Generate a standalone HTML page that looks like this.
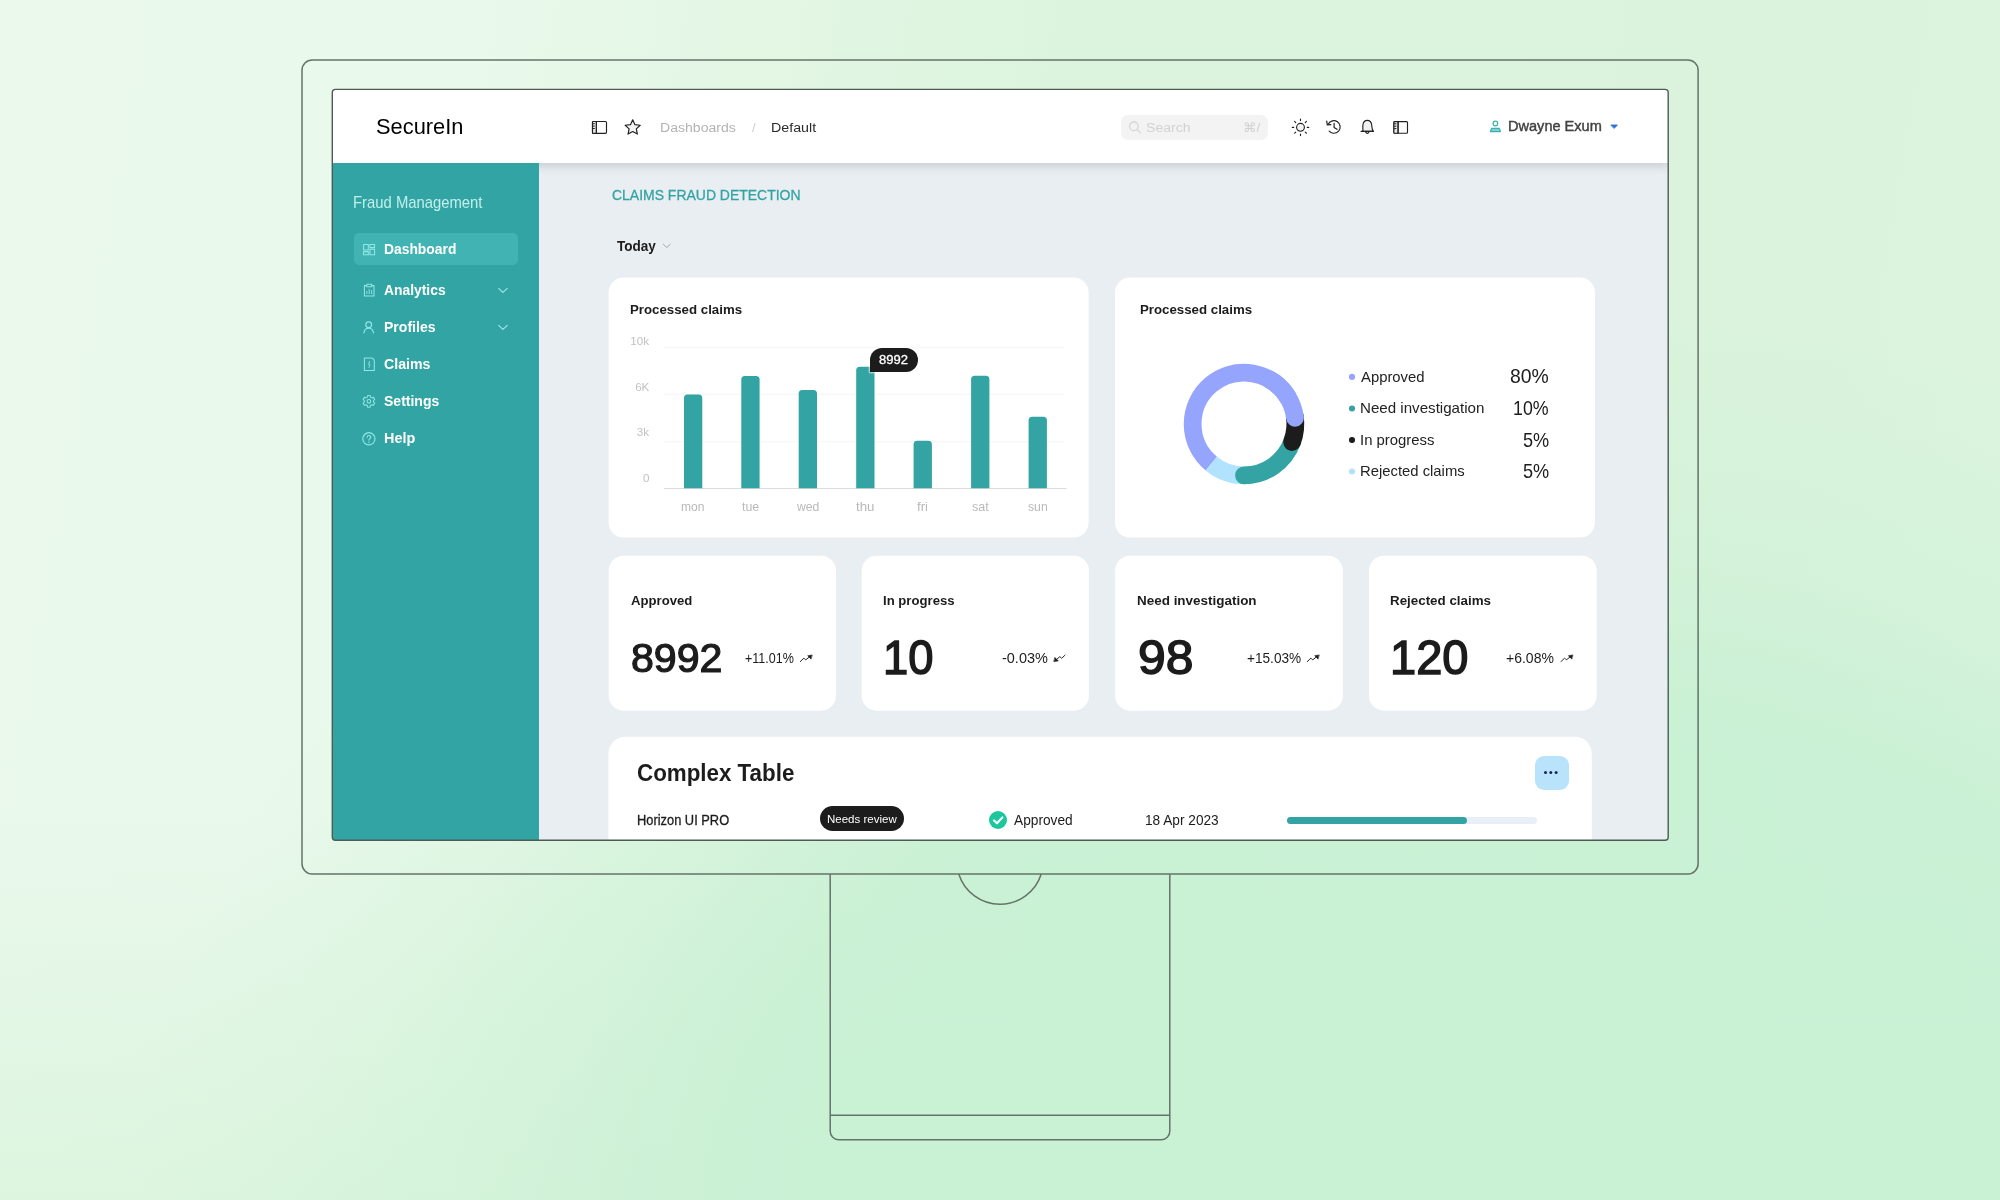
<!DOCTYPE html>
<html lang="en">
<head>
<meta charset="utf-8">
<title>SecureIn – Claims Fraud Detection</title>
<style>
*{box-sizing:border-box;margin:0;padding:0}
html,body{width:2000px;height:1200px;overflow:hidden}
body{position:relative;font-family:"Liberation Sans",sans-serif;
  background:
    radial-gradient(ellipse 1500px 1000px at 1500px 1200px, rgba(201,241,212,1) 0, rgba(201,241,212,.97) 47%, rgba(201,241,212,.88) 52%, rgba(201,241,212,.5) 63%, rgba(201,241,212,.22) 76%, rgba(201,241,212,0) 92%),
    linear-gradient(180deg, rgba(205,240,208,0) 68%, rgba(205,240,208,.45) 100%),
    linear-gradient(100deg,#eaf9ec 0%,#e9f9eb 22%,#dcf4dd 49%,#dbf3dc 85%,#ddf5e0 100%);
}
.abs{position:absolute}
.t{position:absolute;white-space:nowrap;line-height:1;font-family:"Liberation Sans",sans-serif}
svg{position:absolute;overflow:visible}
#stage{will-change:transform;position:absolute;left:0;top:0;width:2000px;height:1200px}
/* monitor */
#screen{left:332px;top:89px;width:1336px;height:751.4px;border-radius:3.5px;overflow:hidden;background:#e9eef2}
#screen > .in{position:absolute;left:-332px;top:-89px;width:2000px;height:1200px}
#hdr{left:332px;top:89px;width:1337px;height:74.2px;background:#fff;box-shadow:0 3px 9px rgba(50,70,80,.2)}
#side{left:332px;top:163.2px;width:207.2px;height:680px;background:#33a4a4}
.card{position:absolute;background:#fff;border-radius:15px}
.bar{position:absolute;background:#33a3a3;border-radius:3.5px 3.5px 0 0;width:18.2px}
.grid{position:absolute;height:1px;background:#f6f6f6;left:664px;width:400px}
.dot{position:absolute;width:6.8px;height:6.8px;border-radius:50%}
</style>
</head>
<body>
<div id="stage">
<!-- monitor outline + stand -->
<svg width="2000" height="1200" viewBox="0 0 2000 1200" style="left:0;top:0">
  <g fill="none" stroke="#64746a" stroke-width="1.5">
    <rect x="302" y="60" width="1396.1" height="813.9" rx="10.2"/>
    <path d="M830.2 874 V1131.2 a8.5 8.5 0 0 0 8.5 8.5 H1161.3 a8.5 8.5 0 0 0 8.5 -8.5 V874"/>
    <path d="M830.2 1115.3 H1169.8"/>
    <path d="M958.75 874.1 A43.27 43.27 0 0 0 1041.25 874.1"/>
  </g>
</svg>
<div id="screen" class="abs"><div class="in">


<!-- cards, gridlines, bars -->
<svg width="2000" height="1200" viewBox="0 0 2000 1200" style="left:0;top:0">
  <rect x="608.6" y="277.6" width="480" height="260" rx="15" fill="#fff"/>
  <rect x="1115" y="277.6" width="480" height="260" rx="15" fill="#fff"/>
  <rect x="608.7" y="555.7" width="227.2" height="155" rx="15" fill="#fff"/>
  <rect x="861.7" y="555.7" width="227.2" height="155" rx="15" fill="#fff"/>
  <rect x="1115.2" y="555.7" width="227.6" height="155" rx="15" fill="#fff"/>
  <rect x="1369" y="555.7" width="227.6" height="155" rx="15" fill="#fff"/>
  <rect x="608.4" y="736.8" width="983.4" height="160" rx="17" fill="#fff"/>
  <rect x="664" y="347.3" width="400" height="1" fill="#f6f6f6"/>
  <rect x="664" y="393.8" width="400" height="1" fill="#f6f6f6"/>
  <rect x="664" y="441.2" width="400" height="1" fill="#f6f6f6"/>
  <rect x="664" y="488" width="402.6" height="1" fill="#dcdcdc"/>
  <path fill="#33a3a3" d="M684.0 488.3 V398.0 a3.6 3.6 0 0 1 3.6 -3.6 h11.1 a3.6 3.6 0 0 1 3.6 3.6 V488.3 Z"/>
  <path fill="#33a3a3" d="M741.3 488.3 V379.6 a3.6 3.6 0 0 1 3.6 -3.6 h11.1 a3.6 3.6 0 0 1 3.6 3.6 V488.3 Z"/>
  <path fill="#33a3a3" d="M798.7 488.3 V393.6 a3.6 3.6 0 0 1 3.6 -3.6 h11.1 a3.6 3.6 0 0 1 3.6 3.6 V488.3 Z"/>
  <path fill="#33a3a3" d="M856.2 488.3 V370.3 a3.6 3.6 0 0 1 3.6 -3.6 h11.1 a3.6 3.6 0 0 1 3.6 3.6 V488.3 Z"/>
  <path fill="#33a3a3" d="M913.6 488.3 V444.4 a3.6 3.6 0 0 1 3.6 -3.6 h11.1 a3.6 3.6 0 0 1 3.6 3.6 V488.3 Z"/>
  <path fill="#33a3a3" d="M971.1 488.3 V379.4 a3.6 3.6 0 0 1 3.6 -3.6 h11.1 a3.6 3.6 0 0 1 3.6 3.6 V488.3 Z"/>
  <path fill="#33a3a3" d="M1028.6 488.3 V420.3 a3.6 3.6 0 0 1 3.6 -3.6 h11.1 a3.6 3.6 0 0 1 3.6 3.6 V488.3 Z"/>
</svg>
<div class="abs" style="left:870px;top:348px;width:47.5px;height:23.8px;background:#1c1c1c;border-radius:12px 12px 12px 0;box-shadow:0 0 2px 1px rgba(255,255,255,.75)"></div>

<!-- chart card 2 -->
<svg width="140" height="140" viewBox="-70 -70 140 140" style="left:1174px;top:354.3px">
  <g fill="none" stroke-width="17.8">
    <path stroke="#95a4fc" d="M-32.66 39.62 A51.35 51.35 0 1 1 44.47 -25.68"/>
    <path stroke="#b1e3ff" d="M1.79 51.32 A51.35 51.35 0 0 1 -32.66 39.62"/>
    <path stroke="#33a3a3" stroke-linecap="round" d="M48.10 17.98 A51.35 51.35 0 0 1 0.00 51.35"/>
    <path stroke="#1c1c1c" stroke-linecap="round" d="M50.72 -8.03 A51.35 51.35 0 0 1 48.10 17.98"/>
    <path stroke="#95a4fc" stroke-linecap="round" d="M25.68 -44.47 A51.35 51.35 0 0 1 50.97 -6.26"/>
  </g>
</svg>
<svg width="10" height="110" viewBox="0 0 10 110" style="left:1347.25px;top:370px">
  <circle cx="5" cy="6.9" r="3.05" fill="#95a4fc"/><circle cx="5" cy="38.5" r="3.05" fill="#33a3a3"/><circle cx="5" cy="70" r="3.05" fill="#1c1c1c"/><circle cx="5" cy="101.5" r="3.05" fill="#b1e3ff"/>
</svg>

<!-- stat cards -->

<!-- table card -->
<div class="abs" style="left:1534.6px;top:755.6px;width:34px;height:34px;border-radius:9px;background:#b9e3fb"></div>
<div class="abs" style="left:1544.3px;top:771.2px;width:3.2px;height:3.2px;border-radius:50%;background:#1b2559;box-shadow:5.3px 0 0 #1b2559,10.6px 0 0 #1b2559"></div>
<div class="abs" style="left:820px;top:805.6px;width:84.2px;height:25.8px;border-radius:13px;background:#1c1c1c"></div>
<div class="abs" style="left:988.8px;top:811.2px;width:18.2px;height:18.2px;border-radius:50%;background:#1dc79e"></div>
<svg width="18.2" height="18.2" viewBox="0 0 18.2 18.2" style="left:988.8px;top:811.2px"><path d="M5 9.4 L8 12.3 L13.4 6.4" fill="none" stroke="#fff" stroke-width="2.1" stroke-linecap="round" stroke-linejoin="round"/></svg>
<div class="abs" style="left:1286.6px;top:816.8px;width:250.4px;height:7.2px;border-radius:4px;background:#e9eff7"></div>
<div class="abs" style="left:1286.6px;top:816.8px;width:180.8px;height:7.2px;border-radius:4px;background:#33a3a3"></div>

<div id="hdr" class="abs"></div>
<div id="side" class="abs"></div>
<div class="abs" style="left:354px;top:233px;width:163.6px;height:32.4px;border-radius:5px;background:#41b3b2"></div>
<div class="abs" style="left:1121px;top:114.5px;width:147.4px;height:25px;border-radius:7px;background:#f3f3f3"></div>

<!-- ===== all small icons: one full-stage SVG in page coordinates ===== -->
<svg width="2000" height="1200" viewBox="0 0 2000 1200" style="left:0;top:0" fill="none" stroke-linecap="round" stroke-linejoin="round">
  <!-- header: sidebar toggle (left) -->
  <g stroke="#222" stroke-width="1.15">
    <rect x="592.5" y="121.5" width="14" height="11.8" rx="1" fill="#fff"/>
    <rect x="592.5" y="121.5" width="3.9" height="11.8" rx="0.6" fill="#e8e8e8"/>
    <path d="M596.4 121.5V133.3" />
    <path d="M593 123.7h1.4M593 126.1h1.4M593 128.5h1.4" stroke-width="1"/>
  </g>
  <!-- header: star -->
  <path d="M632.70 119.80 L634.93 124.63 L640.21 125.26 L636.31 128.87 L637.34 134.09 L632.70 131.50 L628.06 134.09 L629.09 128.87 L625.19 125.26 L630.47 124.63 Z" fill="#f4f4f4" stroke="#222" stroke-width="1.2"/>
  <!-- search magnifier -->
  <g stroke="#d6d6d6" stroke-width="1.3">
    <circle cx="1133.9" cy="126.3" r="4.3"/>
    <path d="M1137.1 129.6 L1140.4 132.9"/>
  </g>
  <!-- sun -->
  <g stroke="#222" stroke-width="1.15">
    <circle cx="1300.5" cy="127.3" r="3.9" fill="#f4f4f4"/>
    <path d="M1300.5 119v1.6M1300.5 134v1.6M1292.2 127.3h1.6M1307.2 127.3h1.6M1294.6 121.4l1.15 1.15M1305.25 132.05l1.15 1.15M1294.6 133.2l1.15 -1.15M1305.25 122.55l1.15 -1.15"/>
  </g>
  <!-- history -->
  <g stroke="#222" stroke-width="1.2">
    <path d="M1328.3 124.0 A6.3 6.3 0 1 1 1329.2 131.2" />
    <path d="M1326.7 121.2 L1327.3 124.9 L1330.9 124.6" />
    <path d="M1334.1 123.4 V127.4 L1337.0 129.3" />
  </g>
  <!-- bell -->
  <g stroke="#222" stroke-width="1.15">
    <path d="M1362.9 131.3 C1363.0 129.5 1362.6 127.0 1362.9 125.0 C1363.3 122.3 1365.0 120.4 1367.3 120.4 C1369.6 120.4 1371.3 122.3 1371.7 125.0 C1372.0 127.0 1371.6 129.5 1373.5 131.3 Z M1361.1 131.3 H1373.5" fill="#f1f1f1"/>
    <path d="M1361.3 131.3 H1373.3"/>
    <path d="M1365.8 132.3 a1.6 1.6 0 0 0 3 0" />
  </g>
  <!-- header: sidebar toggle (right) -->
  <g stroke="#222" stroke-width="1.15">
    <rect x="1393.9" y="121.6" width="13.6" height="11.6" rx="1" fill="#fff"/>
    <rect x="1393.9" y="121.6" width="4.2" height="11.6" rx="0.6" fill="#e8e8e8"/>
    <path d="M1398.1 121.6V133.2"/>
    <path d="M1394.5 123.8h1.5M1394.5 126.2h1.5M1394.5 128.6h1.5" stroke-width="1"/>
  </g>
  <!-- user glyph -->
  <g stroke="#3fb1b0" stroke-width="1.25">
    <circle cx="1495.4" cy="123.5" r="2.3"/>
    <path d="M1490.4 131.5 L1491.6 128.3 H1499.2 L1500.4 131.5 Z" fill="#7fd0ce"/>
  </g>
  <!-- caret -->
  <path d="M1611.2 125.0 H1617.4 L1614.3 128.2 Z" fill="#2a6fd3" stroke="#2a6fd3" stroke-width="0.9"/>

  <!-- sidebar: dashboard -->
  <g stroke="#8fe8e6" stroke-width="1.05">
    <rect x="363.6" y="244.4" width="4.7" height="5.6"/>
    <rect x="369.9" y="244.4" width="4.7" height="3.1"/>
    <rect x="363.6" y="251.6" width="4.7" height="3.1"/>
    <rect x="369.9" y="249.1" width="4.7" height="5.6"/>
  </g>
  <!-- sidebar: analytics (clipboard) -->
  <g stroke="#8fe8e6" stroke-width="1.05">
    <path d="M366.6 285.6 H364.4 V296 H374 V285.6 H371.8"/>
    <rect x="366.6" y="284.3" width="5.2" height="2.5" rx="0.6"/>
    <path d="M366.8 293.6V291.4M369.2 293.6V289.6M371.6 293.6V290.6" stroke-width="0.95"/>
  </g>
  <!-- sidebar: profiles -->
  <g stroke="#8fe8e6" stroke-width="1.15">
    <circle cx="368.7" cy="324.7" r="2.9"/>
    <path d="M363.9 333 C364.3 329.8 366.2 328.2 368.7 328.2 C371.2 328.2 373.1 329.8 373.5 333"/>
  </g>
  <!-- sidebar: claims -->
  <g stroke="#8fe8e6" stroke-width="1.05">
    <path d="M364.4 358 H370.8 C372.8 358 374.3 359.6 374.3 361.6 V370.4 H364.4 Z"/>
    <path d="M369.6 361.4 L368.6 364.4 L369.9 364.6 L369.0 367.4" stroke-width="0.9"/>
  </g>
  <!-- sidebar: settings gear -->
  <g stroke="#8fe8e6" stroke-width="1.05">
    <path d="M367.7 395.4 H370.1 L370.5 397.1 L371.9 397.9 L373.5 397.3 L374.7 399.4 L373.5 400.6 V402.0 L374.7 403.2 L373.5 405.3 L371.9 404.7 L370.5 405.5 L370.1 407.2 H367.7 L367.3 405.5 L365.9 404.7 L364.3 405.3 L363.1 403.2 L364.3 402.0 V400.6 L363.1 399.4 L364.3 397.3 L365.9 397.9 L367.3 397.1 Z"/>
    <circle cx="368.9" cy="401.3" r="1.8"/>
  </g>
  <!-- sidebar: help -->
  <g stroke="#8fe8e6" stroke-width="1.15">
    <circle cx="368.9" cy="438.8" r="6.1"/>
    <path d="M367.1 437.3 C367.1 435.0 370.8 435.0 370.8 437.2 C370.8 438.6 368.9 438.7 368.9 440.3" stroke-width="1.05"/>
    <path d="M368.9 442.2v0.2" stroke-width="1.25"/>
  </g>
  <!-- sidebar chevrons -->
  <g stroke="#9be9e7" stroke-width="1.1">
    <path d="M498.6 288.3 L502.9 292.3 L507.2 288.3"/>
    <path d="M498.6 325.3 L502.9 329.3 L507.2 325.3"/>
  </g>
  <!-- today chevron -->
  <path d="M663.4 244.3 L666.8 247.6 L670.2 244.3" stroke="#a6a6a6" stroke-width="1.0"/>

  <!-- trend arrows -->
  <g stroke="#1c1c1c" stroke-width="0.95" fill="#1c1c1c">
    <g id="up1"><path d="M800.3 661.6 L803.9 658.1 L805.7 659.9 L809.6 656.8" fill="none"/><path d="M811.9 655.0 L807.7 655.7 L810.9 658.9 Z" stroke-width="0.6"/></g>
    <g transform="translate(507,0)"><path d="M800.3 661.6 L803.9 658.1 L805.7 659.9 L809.6 656.8" fill="none"/><path d="M811.9 655.0 L807.7 655.7 L810.9 658.9 Z" stroke-width="0.6"/></g>
    <g transform="translate(760.7,0)"><path d="M800.3 661.6 L803.9 658.1 L805.7 659.9 L809.6 656.8" fill="none"/><path d="M811.9 655.0 L807.7 655.7 L810.9 658.9 Z" stroke-width="0.6"/></g>
    <!-- down-left -->
    <g><path d="M1065.0 655.2 L1061.6 658.3 L1059.8 656.6 L1056.6 659.5" fill="none"/><path d="M1054.1 661.5 L1058.3 660.9 L1055.0 657.6 Z" stroke-width="0.6"/></g>
  </g>
</svg>

<span class="t" style="left:375.93px;transform-origin:0 50%;transform:scaleX(0.9641);top:114.93px;font-size:22.67px;font-weight:400;color:#000;">SecureIn</span>
<span class="t" style="left:660.37px;transform-origin:0 50%;transform:scaleX(1.0638);top:120.65px;font-size:13.23px;font-weight:400;color:#b3b3b3;">Dashboards</span>
<span class="t" style="left:751.90px;transform-origin:0 50%;top:120.65px;font-size:13.23px;font-weight:400;color:#cfcfcf;">/</span>
<span class="t" style="left:770.69px;transform-origin:0 50%;transform:scaleX(1.0781);top:120.65px;font-size:13.23px;font-weight:400;color:#2b2b2b;">Default</span>
<span class="t" style="left:1145.84px;transform-origin:0 50%;transform:scaleX(1.0438);top:120.51px;font-size:13.52px;font-weight:400;color:#d2d2d2;">Search</span>
<span class="t" style="left:1243.11px;transform-origin:0 50%;transform:scaleX(1.0453);top:120.88px;font-size:13.08px;font-weight:400;color:#d2d2d2;font-family:"DejaVu Sans","Liberation Sans",sans-serif;">⌘/</span>
<span class="t" style="left:1507.62px;transform-origin:0 50%;transform:scaleX(0.9540);top:118.03px;font-size:15.26px;font-weight:400;color:#424242;-webkit-text-stroke:0.45px #424242;">Dwayne Exum</span>
<span class="t" style="left:353.28px;transform-origin:0 50%;transform:scaleX(0.9281);top:194.81px;font-size:15.99px;font-weight:400;color:#bff0eb;">Fraud Management</span>
<span class="t" style="left:383.57px;transform-origin:0 50%;transform:scaleX(0.9541);top:241.75px;font-size:14.53px;font-weight:700;color:#fff;">Dashboard</span>
<span class="t" style="left:383.94px;transform-origin:0 50%;transform:scaleX(0.9551);top:282.55px;font-size:14.53px;font-weight:700;color:#fff;">Analytics</span>
<span class="t" style="left:383.55px;transform-origin:0 50%;transform:scaleX(0.9671);top:319.65px;font-size:14.53px;font-weight:700;color:#fff;">Profiles</span>
<span class="t" style="left:383.83px;transform-origin:0 50%;transform:scaleX(0.9732);top:356.65px;font-size:14.53px;font-weight:700;color:#fff;">Claims</span>
<span class="t" style="left:383.78px;transform-origin:0 50%;transform:scaleX(0.9654);top:393.65px;font-size:14.53px;font-weight:700;color:#fff;">Settings</span>
<span class="t" style="left:383.53px;transform-origin:0 50%;transform:scaleX(0.9922);top:430.65px;font-size:14.53px;font-weight:700;color:#fff;">Help</span>
<span class="t" style="left:612.47px;transform-origin:0 50%;transform:scaleX(0.9417);top:187.69px;font-size:14.83px;font-weight:400;color:#33a3a3;-webkit-text-stroke:0.3px #33a3a3;">CLAIMS FRAUD DETECTION</span>
<span class="t" style="left:616.54px;transform-origin:0 50%;transform:scaleX(0.9813);top:240.06px;font-size:13.81px;font-weight:700;color:#1c1c1c;">Today</span>
<span class="t" style="left:629.80px;transform-origin:0 50%;transform:scaleX(0.9710);top:302.79px;font-size:13.66px;font-weight:700;color:#1c1c1c;">Processed claims</span>
<span class="t" style="left:1139.97px;transform-origin:0 50%;transform:scaleX(0.9712);top:302.79px;font-size:13.66px;font-weight:700;color:#1c1c1c;">Processed claims</span>
<span class="t" style="right:1350.93px;transform-origin:100% 50%;top:335.11px;font-size:11.63px;font-weight:400;color:#c2c2c2;">10k</span>
<span class="t" style="right:1350.63px;transform-origin:100% 50%;top:380.71px;font-size:11.63px;font-weight:400;color:#c2c2c2;">6K</span>
<span class="t" style="right:1350.88px;transform-origin:100% 50%;top:426.31px;font-size:11.63px;font-weight:400;color:#c2c2c2;">3k</span>
<span class="t" style="right:1350.67px;transform-origin:100% 50%;top:472.11px;font-size:11.63px;font-weight:400;color:#c2c2c2;">0</span>
<span class="t" style="left:681.19px;transform-origin:0 50%;transform:scaleX(0.9769);top:501.00px;font-size:12.35px;font-weight:400;color:#b9b9b9;">mon</span>
<span class="t" style="left:741.99px;transform-origin:0 50%;transform:scaleX(1.0008);top:501.00px;font-size:12.35px;font-weight:400;color:#b9b9b9;">tue</span>
<span class="t" style="left:797.09px;transform-origin:0 50%;transform:scaleX(0.9882);top:501.00px;font-size:12.35px;font-weight:400;color:#b9b9b9;">wed</span>
<span class="t" style="left:856.23px;transform-origin:0 50%;transform:scaleX(1.0721);top:501.00px;font-size:12.35px;font-weight:400;color:#b9b9b9;">thu</span>
<span class="t" style="left:917.41px;transform-origin:0 50%;transform:scaleX(1.0657);top:501.00px;font-size:12.35px;font-weight:400;color:#b9b9b9;">fri</span>
<span class="t" style="left:971.61px;transform-origin:0 50%;transform:scaleX(1.0178);top:501.00px;font-size:12.35px;font-weight:400;color:#b9b9b9;">sat</span>
<span class="t" style="left:1027.91px;transform-origin:0 50%;transform:scaleX(0.9902);top:501.00px;font-size:12.35px;font-weight:400;color:#b9b9b9;">sun</span>
<span class="t" style="left:879.12px;transform-origin:0 50%;transform:scaleX(1.0816);top:353.95px;font-size:12.06px;font-weight:400;color:#fff;-webkit-text-stroke:0.3px #fff;">8992</span>
<span class="t" style="left:1360.94px;transform-origin:0 50%;transform:scaleX(0.9824);top:368.65px;font-size:15.12px;font-weight:400;color:#222;">Approved</span>
<span class="t" style="left:1359.94px;transform-origin:0 50%;transform:scaleX(1.0007);top:400.15px;font-size:15.12px;font-weight:400;color:#222;">Need investigation</span>
<span class="t" style="left:1359.83px;transform-origin:0 50%;transform:scaleX(0.9849);top:431.75px;font-size:15.12px;font-weight:400;color:#222;">In progress</span>
<span class="t" style="left:1359.97px;transform-origin:0 50%;transform:scaleX(0.9813);top:463.25px;font-size:15.12px;font-weight:400;color:#222;">Rejected claims</span>
<span class="t" style="left:1510.04px;transform-origin:0 50%;transform:scaleX(0.9590);top:366.33px;font-size:20.2px;font-weight:400;color:#1c1c1c;">80%</span>
<span class="t" style="left:1513.14px;transform-origin:0 50%;transform:scaleX(0.8804);top:397.83px;font-size:20.2px;font-weight:400;color:#1c1c1c;">10%</span>
<span class="t" style="left:1522.52px;transform-origin:0 50%;transform:scaleX(0.8994);top:430.03px;font-size:20.2px;font-weight:400;color:#1c1c1c;">5%</span>
<span class="t" style="left:1522.52px;transform-origin:0 50%;transform:scaleX(0.8994);top:460.93px;font-size:20.2px;font-weight:400;color:#1c1c1c;">5%</span>
<span class="t" style="left:630.74px;transform-origin:0 50%;transform:scaleX(0.9620);top:593.69px;font-size:13.66px;font-weight:700;color:#1c1c1c;">Approved</span>
<span class="t" style="left:883.35px;transform-origin:0 50%;transform:scaleX(0.9624);top:593.69px;font-size:13.66px;font-weight:700;color:#1c1c1c;">In progress</span>
<span class="t" style="left:1136.76px;transform-origin:0 50%;transform:scaleX(0.9850);top:593.69px;font-size:13.66px;font-weight:700;color:#1c1c1c;">Need investigation</span>
<span class="t" style="left:1390.11px;transform-origin:0 50%;transform:scaleX(0.9787);top:593.69px;font-size:13.66px;font-weight:700;color:#1c1c1c;">Rejected claims</span>
<span class="t" style="left:631.12px;transform-origin:0 50%;transform:scaleX(1.0290);top:639.34px;font-size:39.97px;font-weight:400;color:#1c1c1c;-webkit-text-stroke:1.20px #1c1c1c;">8992</span>
<span class="t" style="left:883.00px;transform-origin:0 50%;transform:scaleX(0.9313);top:633.11px;font-size:48.69px;font-weight:400;color:#1c1c1c;-webkit-text-stroke:1.50px #1c1c1c;">10</span>
<span class="t" style="left:1137.77px;transform-origin:0 50%;transform:scaleX(1.0231);top:633.11px;font-size:48.69px;font-weight:400;color:#1c1c1c;-webkit-text-stroke:1.50px #1c1c1c;">98</span>
<span class="t" style="left:1390.10px;transform-origin:0 50%;transform:scaleX(0.9657);top:633.11px;font-size:48.69px;font-weight:400;color:#1c1c1c;-webkit-text-stroke:1.50px #1c1c1c;">120</span>
<span class="t" style="left:744.68px;transform-origin:0 50%;transform:scaleX(0.8893);top:650.81px;font-size:14.1px;font-weight:400;color:#1c1c1c;">+11.01%</span>
<span class="t" style="left:1001.57px;transform-origin:0 50%;transform:scaleX(1.0262);top:650.81px;font-size:14.1px;font-weight:400;color:#1c1c1c;">-0.03%</span>
<span class="t" style="left:1247.33px;transform-origin:0 50%;transform:scaleX(0.9671);top:650.81px;font-size:14.1px;font-weight:400;color:#1c1c1c;">+15.03%</span>
<span class="t" style="left:1506.32px;transform-origin:0 50%;transform:scaleX(0.9943);top:650.81px;font-size:14.1px;font-weight:400;color:#1c1c1c;">+6.08%</span>
<span class="t" style="left:636.54px;transform-origin:0 50%;transform:scaleX(0.9468);top:762.42px;font-size:23.62px;font-weight:700;color:#1c1c1c;">Complex Table</span>
<span class="t" style="left:636.65px;transform-origin:0 50%;transform:scaleX(0.9316);top:814.04px;font-size:13.81px;font-weight:400;color:#1c1c1c;-webkit-text-stroke:0.3px #1c1c1c;">Horizon UI PRO</span>
<span class="t" style="left:826.62px;transform-origin:0 50%;transform:scaleX(0.9897);top:812.61px;font-size:11.63px;font-weight:400;color:#fff;">Needs review</span>
<span class="t" style="left:1014.27px;transform-origin:0 50%;transform:scaleX(0.9721);top:813.01px;font-size:14.1px;font-weight:400;color:#1c1c1c;">Approved</span>
<span class="t" style="left:1144.65px;transform-origin:0 50%;transform:scaleX(0.9693);top:813.01px;font-size:14.1px;font-weight:400;color:#1c1c1c;">18 Apr 2023</span>
</div></div>
<svg width="2000" height="1200" viewBox="0 0 2000 1200" style="left:0;top:0"><rect x="332.3" y="89.4" width="1335.9" height="750.9" rx="3.2" fill="none" stroke="#4d5b52" stroke-width="1.4"/></svg>
</div>
</body>
</html>
